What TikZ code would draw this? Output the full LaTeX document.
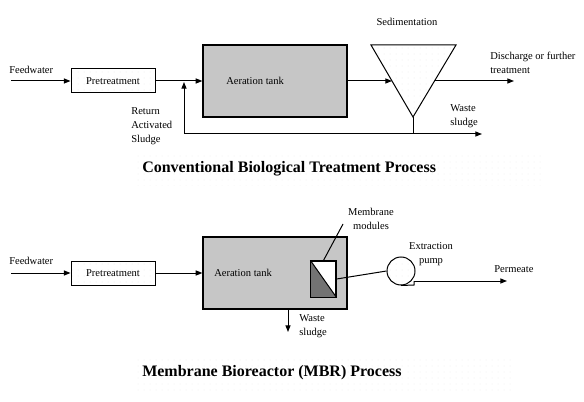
\documentclass[tikz,border=0pt]{standalone}
\usepackage{fontspec}
\setmainfont{Liberation Serif}
\usetikzlibrary{arrows.meta,patterns.meta}

\tikzdeclarepattern{name=sparsedots,type=uncolored,
  bottom left={(-.1pt,-.1pt)},top right={(4.5pt,4.5pt)},tile size={(4.5pt,4.5pt)},
  code={\fill (0,0) circle (0.35pt);}}

\begin{document}
\begin{tikzpicture}[x=0.75pt,y=0.75pt,yscale=-1,xscale=1,
  font=\fontsize{7.9}{10.5}\selectfont,
  lbl/.style={anchor=west,inner sep=0.75pt,align=left},
  pretreat/.style={draw,line width=0.75pt,inner sep=0pt,minimum width=63pt,minimum height=18pt,pattern=sparsedots,pattern color=gray!45},
  tank/.style={draw,line width=0.9pt,inner sep=0pt,minimum width=108pt,minimum height=54pt,fill=gray!45},
  pipe/.style={line width=0.75pt},
  flow/.style={pipe,-{Triangle[length=5pt,width=3.8pt]}},
  ttl/.style={anchor=west,inner sep=0pt,font=\fontsize{12}{14}\selectfont\bfseries},
  ttlback/.style={pattern=sparsedots,pattern color=gray!35}
]
\useasboundingbox (0,0) rectangle (584,402);

%%% Conventional process
%Shape: Title background
\fill[ttlback] (133,155) rectangle (545,186);
%Shape: Rectangle [Pretreatment]
\node[pretreat] (pre1) at (113,81) {Pretreatment};
%Shape: Rectangle [Aeration tank]
\node[tank] (aer1) at (275,81) {};
%Shape: Sedimentation cone
\coordinate (sedtl) at (371,45);
\coordinate (sedtr) at (456,45);
\coordinate (apex) at (413,117);
\draw[pipe,pattern=sparsedots,pattern color=gray!45] (sedtl) -- (sedtr) -- (apex) -- cycle;
\coordinate (sedin) at (392,81);
\coordinate (sedout) at (434.5,81);
\coordinate (sludge1) at (413,134);
\coordinate (retup) at (184,134);
\coordinate (join) at (184,82);
\coordinate (feed1) at (11,81);
\coordinate (disch) at (514,81);
\coordinate (waste1) at (482,134);

% Text Node
\node[lbl] (fw1) at (8,70) {Feedwater};
% Text Node
\node[lbl] (at1) at (225,81) {Aeration tank};
% Text Node
\node[lbl] (ras) at (130,126) {Return\\Activated\\Sludge};
% Text Node
\node[inner sep=0.75pt] (sed) at (407,22) {Sedimentation};
% Text Node
\node[lbl] (dis) at (489,62.5) {Discharge or further\\treatment};
% Text Node
\node[lbl] (ws1) at (449,116) {Waste\\sludge};
% Text Node
\node[ttl] (t1) at (142,169) {Conventional Biological Treatment Process};

% Connectors
\draw[flow] (feed1) -- (pre1.west);
\draw[flow] (pre1.east) -- (aer1.west);
\draw[flow] (aer1.east) -- (sedin);
\draw[flow] (sedout) -- (disch);
\draw[pipe] (apex) -- (sludge1);
\draw[flow] (sludge1) -- (waste1);
\draw[flow] (sludge1) -- (retup) -- (join);

%%% MBR process
%Shape: Title background
\fill[ttlback] (133,358) rectangle (515,393);
%Shape: Rectangle [Pretreatment]
\node[pretreat] (pre2) at (113,273) {Pretreatment};
%Shape: Rectangle [Aeration tank]
\node[tank] (aer2) at (275,273) {};
%Shape: Membrane module
\node[draw,line width=0.9pt,fill=white,inner sep=0pt,minimum width=18.75pt,minimum height=27pt] (mem) at (323.5,279) {};
\fill[black!55] (mem.north west) -- (mem.south east) -- (mem.south west) -- cycle;
\draw[line width=0.9pt] (mem.north west) rectangle (mem.south east);
\draw[pipe] (mem.north west) -- (mem.south east);
%Shape: Extraction pump
\node[draw,circle,line width=0.75pt,inner sep=0pt,minimum size=21pt,pattern=sparsedots,pattern color=gray!45] (pump) at (401,271) {};
\coordinate (feed2) at (11,273);
\coordinate (pmpa) at (414,285);
\coordinate (pmpb) at (414,281);
\coordinate (perm) at (507,281);
\coordinate (waste2) at (288,332);
\coordinate (lead) at (343,224);

% Text Node
\node[lbl] (fw2) at (8,261) {Feedwater};
% Text Node
\node[lbl] (at2) at (213,273) {Aeration tank};
% Text Node
\node[lbl] (ws2) at (298,326.5) {Waste\\sludge};
% Text Node
\node[inner sep=0.75pt,align=center] (mm) at (371,219) {Membrane\\modules};
% Text Node
\node[inner sep=0.75pt,align=center] (ep) at (431,254) {Extraction\\pump};
% Text Node
\node[lbl] (pm) at (493,269) {Permeate};
% Text Node
\node[ttl] (t2) at (142,373) {Membrane Bioreactor (MBR) Process};

% Connectors
\draw[flow] (feed2) -- (pre2.west);
\draw[flow] (pre2.east) -- (aer2.west);
\draw[pipe] (mem.east) -- (pump.west);
\draw[pipe] (pump.south) -- (pmpa) -- (pmpb);
\draw[flow] (pmpb) -- (perm);
\draw[flow] (aer2.south -| waste2) -- (waste2);
\draw[pipe] (lead) -- (mem.north);

\end{tikzpicture}
\end{document}
